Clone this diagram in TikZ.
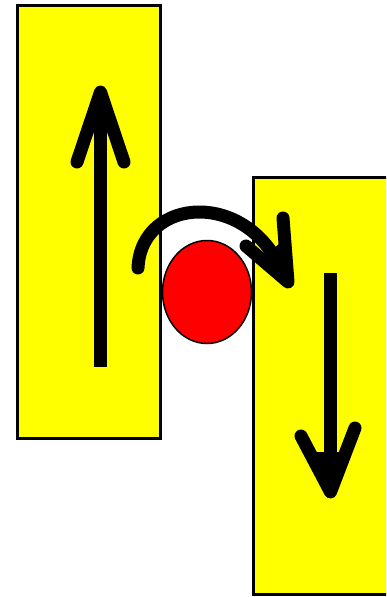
\documentclass[tikz,border=0pt]{standalone}
\definecolor{panelyellow}{RGB}{255,255,0}
\definecolor{ballred}{RGB}{255,0,0}
\begin{document}
\begin{tikzpicture}[x=1pt,y=-1pt,
  panel/.style={fill=panelyellow,draw=black,line width=3pt},
  thick stroke/.style={draw=black,line width=13pt},
  barb/.style={thick stroke,line cap=round,line join=round},
  headfill/.style={fill=black},
  ball/.style={fill=ballred,draw=black,line width=1.5pt}]
\useasboundingbox (0,0) rectangle (386,597);
\begin{scope}
\clip (0,0) rectangle (386,597);
% left panel
\draw[panel] (17.5,5.5) rectangle (160.5,438.5);
% right panel (extends beyond right edge)
\draw[panel] (253.5,177.5) rectangle (400,594.5);
% up arrow
\draw[thick stroke] (100.5,367) -- (100.5,100);
\draw[barb] (77,162) -- (100.5,92) -- (124,162);
\fill[headfill] (100.5,88) -- (82,133) -- (119,133) -- cycle;
% down arrow
\draw[thick stroke] (330.5,273) -- (330.5,480);
\draw[barb] (301,436) -- (330.5,492) -- (355,428);
\fill[headfill] (330.5,496) -- (307,452) -- (350,452) -- cycle;
% red ball
\draw[ball] (207,292) ellipse (44.5 and 51.5);
% curved arrow
\draw[thick stroke,line cap=round] (138,268) .. controls (141,196) and (250,188) .. (284,276);
\draw[barb] (283,218) -- (288,282) -- (246,246);
\fill[headfill] (288,286) -- (279,244) -- (262,258) -- cycle;
\end{scope}
\end{tikzpicture}
\end{document}
